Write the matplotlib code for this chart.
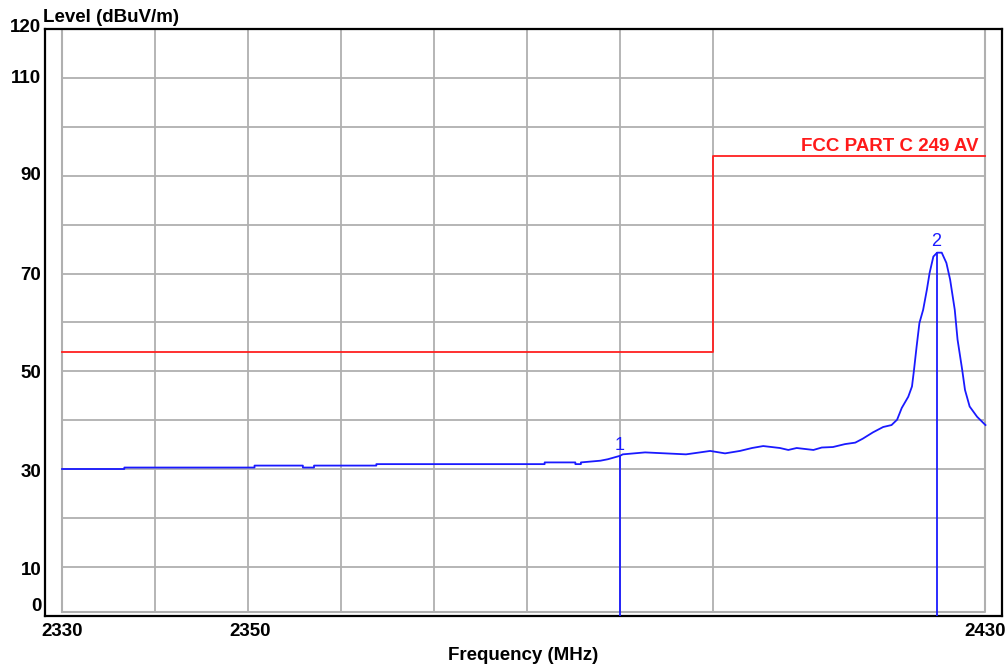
import matplotlib
matplotlib.use('Agg')
import matplotlib.pyplot as plt
from matplotlib.transforms import blended_transform_factory

# Measured trace (MHz, dBuV/m)
freq = [2330.0, 2336.7, 2336.7, 2350.7, 2350.7, 2355.9, 2355.9, 2357.1, 2357.1,
        2363.8, 2363.8, 2381.9, 2381.9, 2385.2, 2385.2, 2385.8, 2385.8, 2387.9,
        2388.7, 2390.0, 2390.3, 2392.7, 2397.1, 2398.6, 2399.7, 2401.3, 2402.9,
        2404.2, 2405.4, 2407.2, 2408.1, 2409.0, 2410.8, 2411.7, 2412.9, 2414.2,
        2415.3, 2416.1, 2417.2, 2418.3, 2419.2, 2419.8, 2420.3, 2421.0, 2421.4,
        2421.6, 2421.9, 2422.2, 2422.6, 2423.0, 2423.3, 2423.7, 2424.1, 2424.6,
        2425.1, 2425.5, 2426.0, 2426.3, 2426.8, 2427.1, 2427.6, 2428.4, 2429.3]
level = [30.0, 30.0, 30.3, 30.3, 30.7, 30.7, 30.3, 30.3, 30.7,
         30.7, 31.0, 31.0, 31.35, 31.35, 31.0, 31.0, 31.35, 31.7,
         32.0, 32.7, 33.0, 33.4, 33.0, 33.4, 33.7, 33.2, 33.7,
         34.3, 34.7, 34.3, 33.9, 34.3, 33.9, 34.4, 34.5, 35.1,
         35.4, 36.2, 37.5, 38.6, 39.0, 40.1, 42.5, 44.8, 46.9,
         50.0, 55.1, 59.9, 62.6, 66.7, 70.2, 73.5, 74.3, 74.3,
         72.2, 68.8, 62.6, 56.5, 50.3, 46.2, 42.8, 40.7, 39.0]

# FCC Part C 15.249 average limit
limit_freq = [2330, 2400, 2400, 2429.3]
limit_level = [54, 54, 94, 94]

# Markers
marker_freq = [2390.0, 2424.1]
marker_level = [32.7, 74.3]
marker_names = ['1', '2']

f_start, f_stop = 2330, 2429.3
xgrid = [2340, 2350, 2360, 2370, 2380, 2390, 2400]
ygrid = [10, 20, 30, 40, 50, 60, 70, 80, 90, 100, 110]

ytick_values = [0, 10, 30, 50, 70, 90, 110, 120]
ytick_label_pos = [1.8, 9.2, 29.2, 49.5, 69.7, 90.0, 110.0, 120.4]
xtick_labels = ['2330', '2350', '2430']
xtick_label_pos = [2330, 2350.2, 2429.3]

font = ['Liberation Sans', 'DejaVu Sans']
plt.rcParams['font.family'] = font

fig = plt.figure(figsize=(10.07, 6.68), dpi=100)
ax = fig.add_axes([45 / 1007, 52 / 668, 957 / 1007, 587.5 / 668])
ax.set_xlim(2328.17, 2431.08)
ax.set_ylim(-0.1, 120.2)

grid_color = '#b0b0b0'
for f in xgrid:
    ax.plot([f, f], [0.65, 120], color=grid_color, lw=1.3, zorder=1)
for v in ygrid:
    ax.plot([f_start, f_stop], [v, v], color=grid_color, lw=1.3, zorder=1)
# inner border of the grid
ax.plot([f_start, f_stop, f_stop, f_start, f_start], [0.65, 0.65, 120, 120, 0.65],
        color=grid_color, lw=1.5, zorder=1)

ax.plot(limit_freq, limit_level, color='#ff2020', lw=1.3, zorder=3)
ax.annotate('FCC PART C 249 AV', xy=(2428.5, 94), xytext=(0, 4),
            textcoords='offset points', ha='right', va='baseline',
            color='#ff1a1a', fontsize=13.5, fontweight='bold')

ax.plot(freq, level, color='#1a1aff', lw=1.3, zorder=4)
for f, v, name in zip(marker_freq, marker_level, marker_names):
    ax.plot([f, f], [-0.1, v], color='#1a1aff', lw=1.3, zorder=4)
    ax.annotate(name, xy=(f, v), xytext=(-0.5, 4.5), textcoords='offset points',
                ha='center', va='baseline', color='#1a1aff', fontsize=13)

ax.set_xticks([])
ax.set_yticks([])
for s in ax.spines.values():
    s.set_color('black')
    s.set_linewidth(1.6)

ytrans = blended_transform_factory(ax.transAxes, ax.transData)
for v, pos in zip(ytick_values, ytick_label_pos):
    ax.text(-0.004, pos, str(v), transform=ytrans, ha='right', va='center',
            fontsize=13.5, fontweight='bold')

xtrans = blended_transform_factory(ax.transData, ax.transAxes)
for lab, pos in zip(xtick_labels, xtick_label_pos):
    ax.text(pos, -0.027, lab, transform=xtrans, ha='center', va='center',
            fontsize=13.5, fontweight='bold')

ax.text(0.5, -0.068, 'Frequency (MHz)', transform=ax.transAxes,
        ha='center', va='center', fontsize=13.5, fontweight='bold')
ax.text(-0.002, 1.004, 'Level (dBuV/m)', transform=ax.transAxes,
        ha='left', va='bottom', fontsize=13.5, fontweight='bold')

fig.savefig('out.png', dpi=100, facecolor='white')
